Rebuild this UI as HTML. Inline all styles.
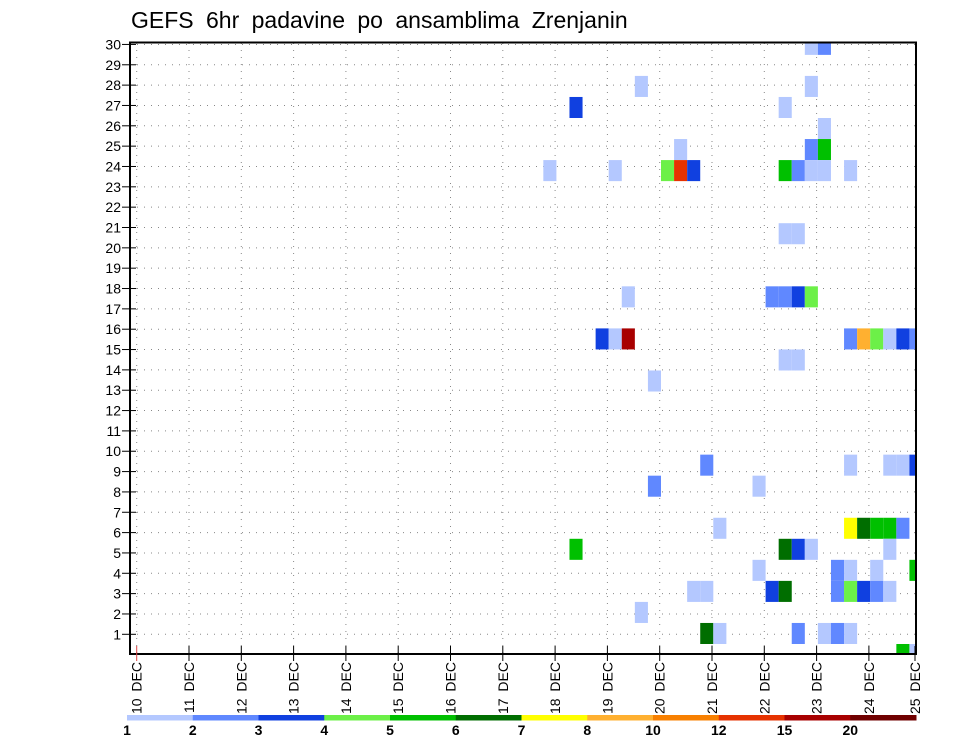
<!DOCTYPE html>
<html><head><meta charset="utf-8"><style>
html,body{margin:0;padding:0;background:#fff;}
svg{display:block;font-family:"Liberation Sans",sans-serif;}
</style></head><body>
<svg id="chart" width="960" height="742" viewBox="0 0 960 742" xmlns="http://www.w3.org/2000/svg">
<text x="131" y="28" font-size="23" fill="#000" style="word-spacing:6px">GEFS 6hr padavine po ansamblima Zrenjanin</text>
<defs><clipPath id="plotclip"><rect x="130" y="42.5" width="786" height="611.5"/></clipPath></defs>
<g id="grid"></g>
<g id="cells" clip-path="url(#plotclip)"></g>
<g id="axes"></g>
<g id="legend"></g>
</svg>
<script>
// 6-hour step index (0 = 10 DEC 00Z), ensemble member, precipitation (mm)
const steps   = [51,52, 38,51, 33,49, 52, 41,51,52, 31,36,40,41,42,49,50,51,52,54, 49,50, 37,48,49,50,51, 35,36,37,54,55,56,57,58,59, 49,50, 39, 43,54,57,58,59, 39,47, 44,54,55,56,57,58, 33,49,50,51,57, 47,53,54,56,59, 42,43,48,49,53,54,55,56,57, 38, 43,44,50,52,53,54, 58,59];
const members = [29,29, 27,27, 26,26, 25, 24,24,24, 23,23,23,23,23,23,23,23,23,23, 20,20, 17,17,17,17,17, 15,15,15,15,15,15,15,15,15, 14,14, 13, 9,9,9,9,9, 8,8, 6,6,6,6,6,6, 5,5,5,5,5, 4,4,4,4,4, 3,3,3,3,3,3,3,3,3, 2, 1,1,1,1,1,1, 0,0];
const precip  = [1.5,2.5, 1.5,1.5, 3.5,1.5, 1.5, 1.5,2.5,5.5, 1.5,1.5,4.5,13,3.5,5.5,2.5,1.5,1.5,1.5, 1.5,1.5, 1.5,2.5,2.5,3.5,4.5, 3.5,1.5,17,2.5,9,4.5,1.5,3.5,2.5, 1.5,1.5, 1.5, 2.5,1.5,1.5,1.5,3.5, 2.5,1.5, 1.5,7.5,6.5,5.5,5.5,2.5, 5.5,6.5,3.5,1.5,1.5, 1.5,2.5,1.5,1.5,5.5, 1.5,1.5,3.5,6.5,2.5,4.5,3.5,2.5,1.5, 1.5, 6.5,1.5,2.5,1.5,2.5,1.5, 5.5,1.5];
const levels  = [1,2,3,4,5,6,7,8,10,12,15,20];
const colors  = ["#b4c8ff","#6088ff","#1040e0","#6cf048","#00c000","#006e00","#ffff00","#ffb030","#f88000","#e63200","#a80000","#700000"];
const dayLabels = ["10","11","12","13","14","15","16","17","18","19","20","21","22","23","24","25"];
const yLabels = [1,2,3,4,5,6,7,8,9,10,11,12,13,14,15,16,17,18,19,20,21,22,23,24,25,26,27,28,29,30];

const NS="http://www.w3.org/2000/svg";
const X0=138, STEP=13.075, DAY=52.3;
const xStep = k => X0 + k*STEP;
const xDay = d => 136.7 + d*DAY;
const memH = 21.04;
const yMemTop = m => 644 - m*memH;
const yLab = v => 634.3 - (v-1)*20.34;
function colorFor(v){let c=colors[0];for(let i=0;i<levels.length;i++){if(v>=levels[i])c=colors[i];}return c;}
function mk(tag,attrs,parent){const e=document.createElementNS(NS,tag);for(const k in attrs)e.setAttribute(k,attrs[k]);parent.appendChild(e);return e;}

const grid=document.getElementById('grid');
yLabels.forEach(v=>{
  const l=mk('line',{x1:130,x2:916,y1:yLab(v),y2:yLab(v),stroke:'#888','stroke-width':1,'stroke-dasharray':'1,6'},grid);
  
  
});
for(let d=0;d<15;d++){
  const l=mk('line',{x1:xDay(d),x2:xDay(d),y1:43,y2:654,stroke:'#888','stroke-width':1,'stroke-dasharray':'1,6'},grid);
  
  
}

const cg=document.getElementById('cells');
for(let i=0;i<steps.length;i++){
  const r=mk('rect',{x:xStep(steps[i]),y:yMemTop(members[i]),width:STEP,height:memH,fill:colorFor(precip[i])},cg);
  
  
}

const ax=document.getElementById('axes');
const fr=mk('rect',{x:130,y:42.5,width:786,height:611.5,fill:'none',stroke:'#000','stroke-width':2},ax);


yLabels.forEach(v=>{
  const t=mk('line',{x1:122,x2:136,y1:yLab(v),y2:yLab(v),stroke:'#000','stroke-width':1},ax);
  
  
  const tx=mk('text',{x:121,y:yLab(v)+5,'font-size':14,'text-anchor':'end',fill:'#000'},ax);
  tx.textContent=v;
  
  
});
dayLabels.forEach((lab,d)=>{
  const x = d===15 ? 915 : xDay(d);
  const t=mk('line',{x1:x,x2:x,y1:646,y2:661,stroke:d===0?'#d44':'#000','stroke-width':1},ax);
  
  
  const tx=mk('text',{x:0,y:0,'font-size':14,'text-anchor':'end',fill:'#000',transform:`translate(${x+5},662) rotate(-90)`,style:'word-spacing:3px'},ax);
  tx.textContent=lab+' DEC';
  
  
});

const lg=document.getElementById('legend');
const LX=127, LW=(916-127)/levels.length;
levels.forEach((lv,i)=>{
  const r=mk('rect',{x:LX+i*LW,y:715,width:LW+0.5,height:5.5,fill:colors[i]},lg);
  
  
  const t=mk('text',{x:LX+i*LW,y:735,'font-size':14,'text-anchor':'middle',fill:'#000','font-weight':'bold'},lg);
  t.textContent=lv;
  
  
});
</script>
</body></html>
